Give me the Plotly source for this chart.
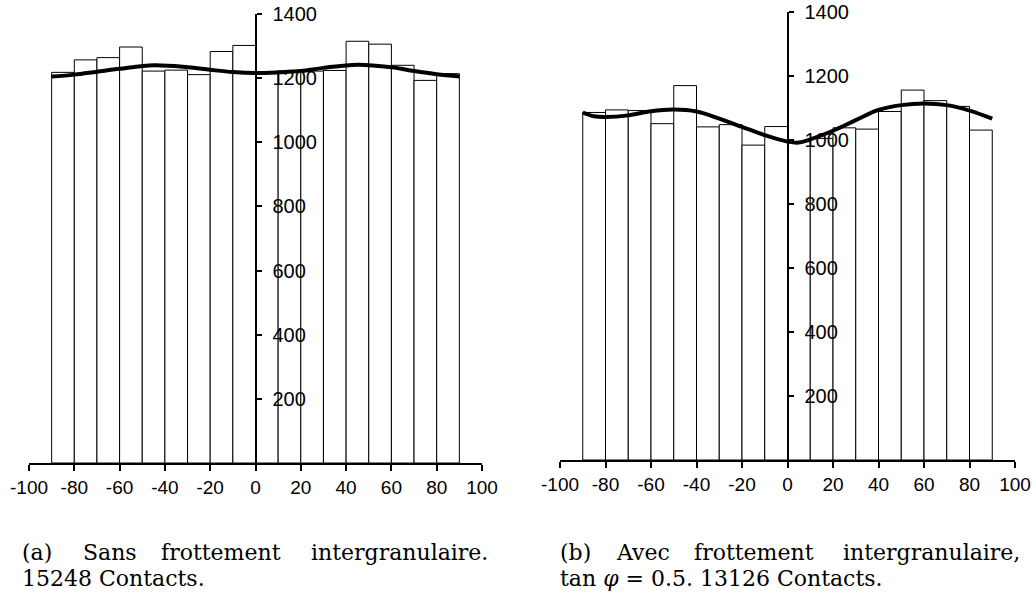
import plotly.graph_objects as go

# ---- data ----
bin_centers = [-85, -75, -65, -55, -45, -35, -25, -15, -5, 5, 15, 25, 35, 45, 55, 65, 75, 85]
counts_a = [1218, 1257, 1264, 1297, 1222, 1225, 1211, 1283, 1302,
            1215, 1222, 1222, 1224, 1315, 1306, 1240, 1193, 1214]
counts_b = [1086, 1094, 1092, 1051, 1170, 1041, 1048, 984, 1042,
            995, 1005, 1038, 1034, 1089, 1156, 1123, 1105, 1031]

curve_x_a = [-90, -80, -70, -60, -45, -30, -20, -10, 0, 10, 20, 30, 45, 60, 70, 80, 90]
curve_y_a = [1205, 1211, 1220, 1229, 1240, 1234, 1226, 1219, 1216, 1218, 1222, 1232, 1242, 1234, 1222, 1212, 1205]

curve_x_b = [-90, -85, -80, -70, -60, -50, -40, -30, -20, -10, 0, 5, 10, 20, 30, 40, 50, 60, 70, 80, 90]
curve_y_b = [1086, 1074, 1072, 1077, 1090, 1095, 1089, 1067, 1041, 1015, 995, 992, 1002, 1029, 1062, 1094, 1109, 1114, 1109, 1092, 1067]

x_ticks = list(range(-100, 101, 20))
x_ticktext = [str(v) for v in x_ticks]
y_ticks = list(range(200, 1401, 200))
y_ticktext = [str(v) for v in y_ticks]

W, H = 1036, 609
axis_font = dict(family="Liberation Sans, Arial", size=19, color="black")

def px_x(p):
    return p / W

def px_y(p):
    return 1 - p / H

fig = go.Figure()

for counts, cx, cy, xa, ya in [(counts_a, curve_x_a, curve_y_a, "x", "y"),
                                (counts_b, curve_x_b, curve_y_b, "x2", "y2")]:
    fig.add_trace(go.Bar(x=bin_centers, y=counts, width=10, xaxis=xa, yaxis=ya,
                         marker=dict(color="white", line=dict(color="black", width=1)),
                         showlegend=False, hoverinfo="skip"))
    fig.add_trace(go.Scatter(x=cx, y=cy, xaxis=xa, yaxis=ya, mode="lines",
                             line=dict(color="black", width=4, shape="spline", smoothing=1.0),
                             showlegend=False, hoverinfo="skip"))

left_dom = [px_x(29), px_x(482)]
right_dom = [px_x(560), px_x(1015)]
ydom_a = [px_y(463), px_y(14)]
ydom_b = [px_y(460), px_y(12)]

def xaxis_cfg(dom, anchor):
    return dict(domain=dom, range=[-100, 100], tickvals=x_ticks, ticktext=x_ticktext,
                ticks="outside", ticklen=6, automargin=False,
                tickwidth=2, tickcolor="black", showline=True, linecolor="black", linewidth=2,
                showgrid=False, zeroline=False, tickfont=axis_font, anchor=anchor, fixedrange=True)

def yaxis_cfg(dom, pos, side, labels, overlay=None):
    d = dict(domain=dom, range=[0, 1400], tickvals=y_ticks, ticktext=y_ticktext,
             ticks="outside", ticklen=5, automargin=False,
             tickwidth=2, tickcolor="black", showline=True, linecolor="black", linewidth=2,
             showgrid=False, zeroline=False, anchor="free", position=pos, side=side,
             showticklabels=labels, tickfont=dict(family="Liberation Sans, Arial", size=20, color="black"),
             ticklabelstandoff=7, fixedrange=True)
    if overlay:
        d["overlaying"] = overlay
    return d

pos_a = left_dom[0] + 0.5 * (left_dom[1] - left_dom[0])
pos_b = right_dom[0] + 0.5 * (right_dom[1] - right_dom[0])

fig.update_layout(
    width=W, height=H, autosize=False,
    margin=dict(l=0, r=0, t=0, b=0, pad=0, autoexpand=False),
    paper_bgcolor="white", plot_bgcolor="rgba(0,0,0,0)",
    barmode="overlay", bargap=0,
    xaxis=xaxis_cfg(left_dom, "y"),
    yaxis=yaxis_cfg(ydom_a, pos_a, "right", True),
    xaxis2=xaxis_cfg(right_dom, "y2"),
    yaxis2=yaxis_cfg(ydom_b, pos_b, "right", True),
    yaxis3=yaxis_cfg(ydom_a, pos_a, "left", False, overlay="y"),
    yaxis4=yaxis_cfg(ydom_b, pos_b, "left", False, overlay="y2"),
)

cap_font = dict(family="DejaVu Serif", size=22, color="black")
line1_y = px_y(552)
line2_y = px_y(578)

def word(txt, xpx, y):
    fig.add_annotation(text=txt, x=px_x(xpx), y=y, xref="paper", yref="paper",
                       xanchor="left", yanchor="middle", showarrow=False, font=cap_font,
                       borderpad=0)

for txt, xp in [("(a)", 21), ("Sans", 82), ("frottement", 160), ("intergranulaire.", 310)]:
    word(txt, xp, line1_y)
word("15248 Contacts.", 21, line2_y)

for txt, xp in [("(b)", 559), ("Avec", 615), ("frottement", 693), ("intergranulaire,", 842)]:
    word(txt, xp, line1_y)
word("tan <i>φ</i> = 0.5. 13126 Contacts.", 559, line2_y)

fig.write_html("out.html",
               config={"displayModeBar": False, "staticPlot": True},
               post_script="document.body.style.margin='0';document.body.style.overflow='hidden';")
